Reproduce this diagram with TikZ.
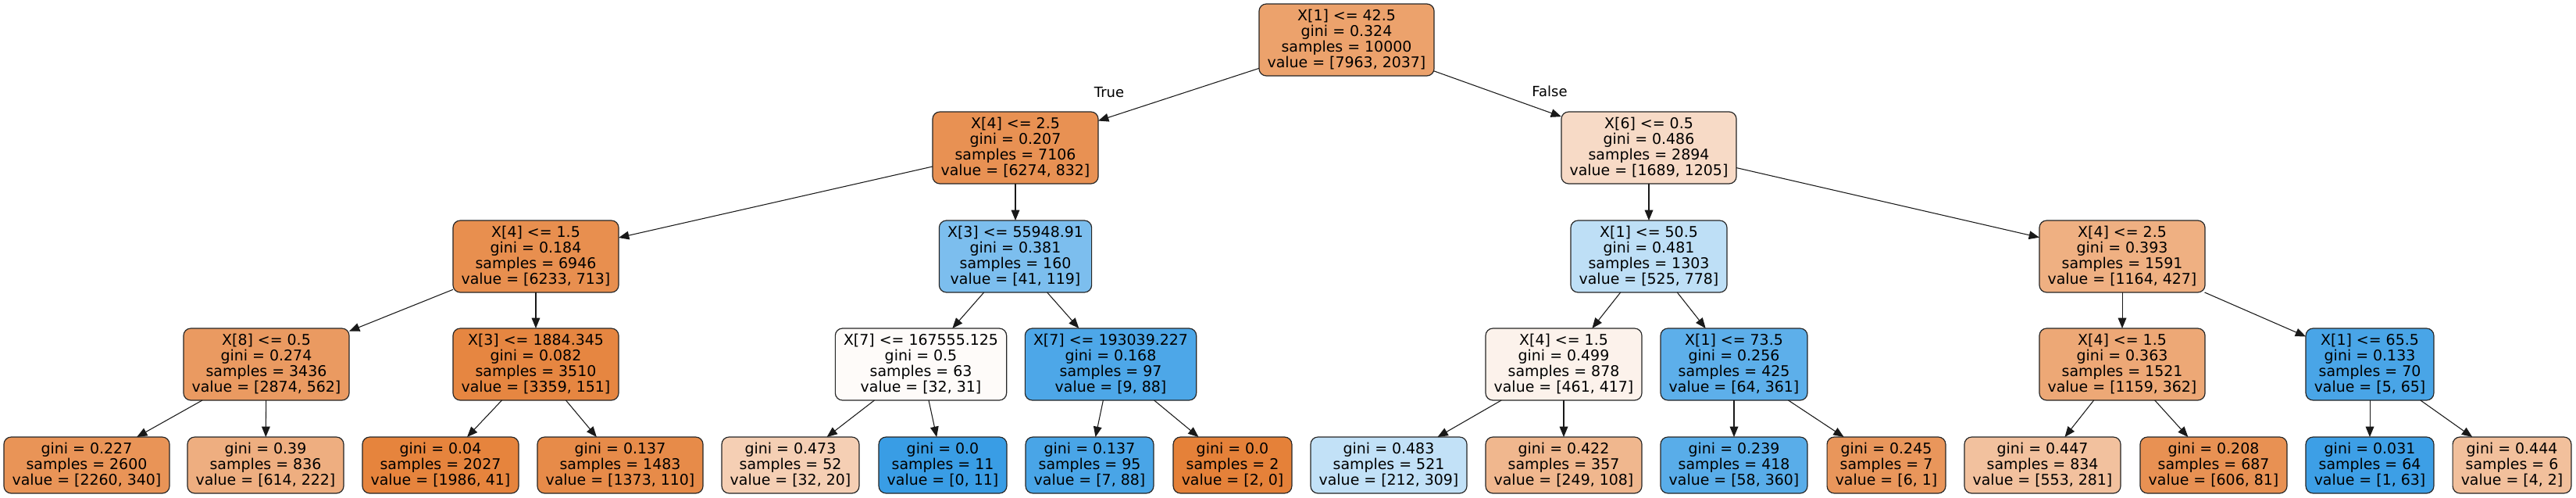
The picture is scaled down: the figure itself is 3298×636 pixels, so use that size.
\documentclass[tikz,border=0pt]{standalone}
\usepackage{fontspec}
\setmainfont{DejaVu Sans}
\usepackage{tikz}
\usetikzlibrary{arrows.meta}
\definecolor{clsa}{HTML}{E58139}
\definecolor{clsb}{HTML}{399DE5}
\tikzset{
	split/.style={draw=black!85, line width=0.9pt, rounded corners=7pt, outer sep=0pt,
		inner xsep=8pt, minimum height=69pt, align=center,
		font={\fontsize{14.2pt}{15pt}\selectfont}},
	leaf/.style={split, minimum height=54pt},
	edge/.style={draw=black!90, line width=0.8pt, -{Triangle[length=10pt,width=8pt]}},
	lbl/.style={font={\fontsize{13.5pt}{15pt}\selectfont}}
}
\begin{document}
\begin{tikzpicture}[x=0.75pt, y=-0.75pt]
			%%%%% START %%%%%
			
			\fill[white] (0, 0) rectangle (3298, 636);
			\useasboundingbox (0, 0) rectangle (3298, 636);
			
			% depth 0
			\node[split, fill=clsa!74] (n0) at (1724, 51) {X[1] <= 42.5\\gini = 0.324\\samples = 10000\\value = [7963, 2037]};
			
			% depth 1
			\node[split, fill=clsa!87] (n1) at (1300, 189) {X[4] <= 2.5\\gini = 0.207\\samples = 7106\\value = [6274, 832]};
			\node[split, fill=clsa!29] (n16) at (2111, 189) {X[6] <= 0.5\\gini = 0.486\\samples = 2894\\value = [1689, 1205]};
			
			% depth 2
			\node[split, fill=clsa!89] (n2) at (686, 328) {X[4] <= 1.5\\gini = 0.184\\samples = 6946\\value = [6233, 713]};
			\node[split, fill=clsb!66] (n9) at (1300, 328) {X[3] <= 55948.91\\gini = 0.381\\samples = 160\\value = [41, 119]};
			\node[split, fill=clsb!33] (n17) at (2111, 328) {X[1] <= 50.5\\gini = 0.481\\samples = 1303\\value = [525, 778]};
			\node[split, fill=clsa!63] (n24) at (2717, 328) {X[4] <= 2.5\\gini = 0.393\\samples = 1591\\value = [1164, 427]};
			
			% depth 3
			\node[split, fill=clsa!80] (n3) at (341, 466) {X[8] <= 0.5\\gini = 0.274\\samples = 3436\\value = [2874, 562]};
			\node[split, fill=clsa!96] (n6) at (686, 466) {X[3] <= 1884.345\\gini = 0.082\\samples = 3510\\value = [3359, 151]};
			\node[split, fill=clsa!3] (n10) at (1179, 466) {X[7] <= 167555.125\\gini = 0.5\\samples = 63\\value = [32, 31]};
			\node[split, fill=clsb!90] (n13) at (1422, 466) {X[7] <= 193039.227\\gini = 0.168\\samples = 97\\value = [9, 88]};
			\node[split, fill=clsa!10] (n18) at (2002, 466) {X[4] <= 1.5\\gini = 0.499\\samples = 878\\value = [461, 417]};
			\node[split, fill=clsb!82] (n21) at (2220, 466) {X[1] <= 73.5\\gini = 0.256\\samples = 425\\value = [64, 361]};
			\node[split, fill=clsa!69] (n25) at (2717, 466) {X[4] <= 1.5\\gini = 0.363\\samples = 1521\\value = [1159, 362]};
			\node[split, fill=clsb!92] (n28) at (3034, 466) {X[1] <= 65.5\\gini = 0.133\\samples = 70\\value = [5, 65]};
			
			% leaves
			\node[leaf, fill=clsa!85] (n4) at (111, 595) {gini = 0.227\\samples = 2600\\value = [2260, 340]};
			\node[leaf, fill=clsa!64] (n5) at (340, 595) {gini = 0.39\\samples = 836\\value = [614, 222]};
			\node[leaf, fill=clsa!98] (n7) at (564, 595) {gini = 0.04\\samples = 2027\\value = [1986, 41]};
			\node[leaf, fill=clsa!92] (n8) at (794, 595) {gini = 0.137\\samples = 1483\\value = [1373, 110]};
			\node[leaf, fill=clsa!38] (n11) at (1012, 595) {gini = 0.473\\samples = 52\\value = [32, 20]};
			\node[leaf, fill=clsb] (n12) at (1207, 595) {gini = 0.0\\samples = 11\\value = [0, 11]};
			\node[leaf, fill=clsb!92] (n14) at (1395, 595) {gini = 0.137\\samples = 95\\value = [7, 88]};
			\node[leaf, fill=clsa] (n15) at (1578, 595) {gini = 0.0\\samples = 2\\value = [2, 0]};
			\node[leaf, fill=clsb!31] (n19) at (1778, 595) {gini = 0.483\\samples = 521\\value = [212, 309]};
			\node[leaf, fill=clsa!57] (n20) at (2002, 595) {gini = 0.422\\samples = 357\\value = [249, 108]};
			\node[leaf, fill=clsb!84] (n22) at (2220, 595) {gini = 0.239\\samples = 418\\value = [58, 360]};
			\node[leaf, fill=clsa!83] (n23) at (2415, 595) {gini = 0.245\\samples = 7\\value = [6, 1]};
			\node[leaf, fill=clsa!49] (n26) at (2615, 595) {gini = 0.447\\samples = 834\\value = [553, 281]};
			\node[leaf, fill=clsa!87] (n27) at (2834, 595) {gini = 0.208\\samples = 687\\value = [606, 81]};
			\node[leaf, fill=clsb!98] (n29) at (3034, 595) {gini = 0.031\\samples = 64\\value = [1, 63]};
			\node[leaf, fill=clsa!50] (n30) at (3216, 595) {gini = 0.444\\samples = 6\\value = [4, 2]};
			
			% edges
			\draw[edge] (n0) -- (n1);
			\draw[edge] (n0) -- (n16);
			\draw[edge] (n1) -- (n2);
			\draw[edge] (n1) -- (n9);
			\draw[edge] (n2) -- (n3);
			\draw[edge] (n2) -- (n6);
			\draw[edge] (n3) -- (n4);
			\draw[edge] (n3) -- (n5);
			\draw[edge] (n6) -- (n7);
			\draw[edge] (n6) -- (n8);
			\draw[edge] (n9) -- (n10);
			\draw[edge] (n9) -- (n13);
			\draw[edge] (n10) -- (n11);
			\draw[edge] (n10) -- (n12);
			\draw[edge] (n13) -- (n14);
			\draw[edge] (n13) -- (n15);
			\draw[edge] (n16) -- (n17);
			\draw[edge] (n16) -- (n24);
			\draw[edge] (n17) -- (n18);
			\draw[edge] (n17) -- (n21);
			\draw[edge] (n18) -- (n19);
			\draw[edge] (n18) -- (n20);
			\draw[edge] (n21) -- (n22);
			\draw[edge] (n21) -- (n23);
			\draw[edge] (n24) -- (n25);
			\draw[edge] (n24) -- (n28);
			\draw[edge] (n25) -- (n26);
			\draw[edge] (n25) -- (n27);
			\draw[edge] (n28) -- (n29);
			\draw[edge] (n28) -- (n30);
			
			\node[lbl] (lbltrue) at (1420, 118) {True};
			\node[lbl] (lblfalse) at (1984, 117) {False};
			
			%%%%% END %%%%%
\end{tikzpicture}
\end{document}
